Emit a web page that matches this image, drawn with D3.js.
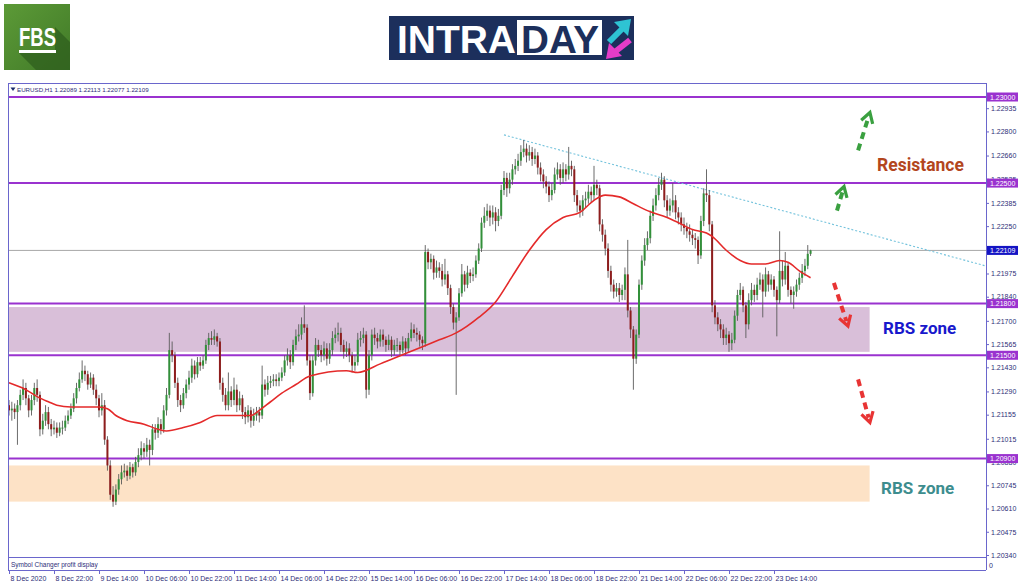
<!DOCTYPE html>
<html><head><meta charset="utf-8">
<script src="https://cdn.jsdelivr.net/npm/d3@7"></script>
<style>body{margin:0;background:#fff}svg{display:block}</style>
</head><body>
<svg id="c" width="1024" height="587"></svg>
<script>
// ---------- DATA (EURUSD H1) ----------
const opens=[
1.2121,1.2118,1.2119,1.2117,1.2121,1.2127,1.2131,1.2125,1.2118,1.2124,
1.2131,1.2127,1.2107,1.2112,1.2117,1.2110,1.2107,1.2108,1.2105,1.2108,
1.2108,1.2112,1.2115,1.2119,1.2125,1.2131,1.2136,1.2141,1.2139,1.2133,
1.2137,1.2130,1.2125,1.2118,1.2121,1.2101,1.2086,1.2069,1.2065,1.2072,
1.2078,1.2082,1.2083,1.2080,1.2085,1.2082,1.2088,1.2092,1.2096,1.2094,
1.2098,1.2095,1.2107,1.2105,1.2110,1.2107,1.2118,1.2127,1.2153,1.2150,
1.2134,1.2124,1.2121,1.2128,1.2133,1.2137,1.2144,1.2139,1.2146,1.2144,
1.2147,1.2156,1.2160,1.2159,1.2161,1.2158,1.2134,1.2127,1.2121,1.2129,
1.2124,1.2130,1.2121,1.2125,1.2117,1.2114,1.2118,1.2112,1.2115,1.2117,
1.2115,1.2133,1.2130,1.2134,1.2135,1.2136,1.2135,1.2137,1.2140,1.2147,
1.2150,1.2146,1.2156,1.2161,1.2162,1.2168,1.2166,1.2147,1.2128,1.2147,
1.2156,1.2153,1.2150,1.2154,1.2148,1.2153,1.2160,1.2162,1.2163,1.2156,
1.2152,1.2154,1.2150,1.2144,1.2146,1.2159,1.2160,1.2162,1.2130,1.2150,
1.2162,1.2160,1.2158,1.2162,1.2159,1.2156,1.2159,1.2153,1.2156,1.2156,
1.2153,1.2158,1.2154,1.2160,1.2165,1.2163,1.2162,1.2159,1.2157,1.2210,
1.2204,1.2206,1.2198,1.2201,1.2199,1.2194,1.2197,1.2189,1.2178,1.2169,
1.2172,1.2186,1.2197,1.2191,1.2198,1.2196,1.2197,1.2205,1.2212,1.2227,
1.2231,1.2234,1.2230,1.2233,1.2228,1.2231,1.2246,1.2253,1.2247,1.2252,
1.2258,1.2260,1.2263,1.2268,1.2270,1.2266,1.2268,1.2264,1.2266,1.2259,
1.2255,1.2251,1.2248,1.2243,1.2246,1.2255,1.2258,1.2253,1.2258,1.2255,
1.2260,1.2258,1.2243,1.2237,1.2234,1.2240,1.2241,1.2245,1.2243,1.2249,
1.2247,1.2226,1.2220,1.2212,1.2199,1.2191,1.2187,1.2189,1.2185,1.2188,
1.2197,1.2176,1.2165,1.2148,1.2162,1.2191,1.2205,1.2214,1.2218,1.2231,
1.2237,1.2243,1.2249,1.2252,1.2240,1.2234,1.2237,1.2240,1.2233,1.2230,
1.2226,1.2224,1.2222,1.2220,1.2218,1.2217,1.2208,1.2228,1.2244,1.2243,
1.2226,1.2179,1.2172,1.2168,1.2165,1.2160,1.2162,1.2157,1.2159,1.2173,
1.2185,1.2188,1.2179,1.2168,1.2182,1.2188,1.2185,1.2191,1.2194,1.2187,
1.2197,1.2191,1.2194,1.2188,1.2182,1.2199,1.2194,1.2202,1.2188,1.2185,
1.2187,1.2191,1.2195,1.2199,1.2202,1.22089];
const highs=[
1.2124,1.2123,1.2122,1.2124,1.2130,1.2136,1.2134,1.2127,1.2127,1.2134,
1.2136,1.2129,1.2116,1.2121,1.2120,1.2113,1.2112,1.2111,1.2111,1.2112,
1.2115,1.2118,1.2122,1.2128,1.2134,1.2140,1.2147,1.2144,1.2141,1.2140,
1.2139,1.2133,1.2127,1.2128,1.2124,1.2103,1.2089,1.2074,1.2075,1.2081,
1.2086,1.2087,1.2086,1.2088,1.2087,1.2091,1.2096,1.2100,1.2099,1.2102,
1.2101,1.2110,1.2110,1.2114,1.2113,1.2121,1.2131,1.2163,1.2158,1.2152,
1.2137,1.2127,1.2131,1.2136,1.2141,1.2148,1.2147,1.2149,1.2149,1.2150,
1.2159,1.2163,1.2164,1.2165,1.2163,1.2160,1.2137,1.2131,1.2140,1.2132,
1.2137,1.2133,1.2129,1.2127,1.2120,1.2121,1.2120,1.2119,1.2120,1.2120,
1.2144,1.2136,1.2138,1.2138,1.2139,1.2139,1.2140,1.2143,1.2150,1.2154,
1.2153,1.2159,1.2165,1.2168,1.2172,1.2179,1.2168,1.2150,1.2150,1.2160,
1.2159,1.2156,1.2158,1.2157,1.2157,1.2164,1.2166,1.2169,1.2166,1.2159,
1.2158,1.2157,1.2152,1.2150,1.2163,1.2164,1.2166,1.2164,1.2153,1.2165,
1.2166,1.2163,1.2165,1.2165,1.2161,1.2162,1.2161,1.2159,1.2160,1.2158,
1.2161,1.2160,1.2163,1.2169,1.2168,1.2166,1.2164,1.2161,1.2214,1.2212,
1.2209,1.2208,1.2205,1.2204,1.2203,1.2206,1.2199,1.2191,1.2180,1.2175,
1.2189,1.2203,1.2199,1.2202,1.2200,1.2201,1.2208,1.2215,1.2230,1.2236,
1.2238,1.2237,1.2237,1.2236,1.2235,1.2249,1.2257,1.2256,1.2256,1.2261,
1.2264,1.2267,1.2272,1.2275,1.2273,1.2272,1.2271,1.2270,1.2268,1.2262,
1.2258,1.2254,1.2251,1.2250,1.2259,1.2262,1.2261,1.2262,1.2261,1.2271,
1.2263,1.2260,1.2246,1.2240,1.2243,1.2245,1.2249,1.2248,1.2260,1.2252,
1.2249,1.2229,1.2223,1.2215,1.2202,1.2194,1.2192,1.2192,1.2191,1.2201,
1.2217,1.2178,1.2167,1.2165,1.2194,1.2208,1.2218,1.2222,1.2234,1.2241,
1.2247,1.2253,1.2256,1.2254,1.2243,1.2241,1.2250,1.2243,1.2236,1.2233,
1.2230,1.2227,1.2226,1.2223,1.2221,1.2219,1.2231,1.2247,1.2258,1.2246,
1.2228,1.2182,1.2175,1.2171,1.2168,1.2166,1.2164,1.2163,1.2176,1.2188,
1.2192,1.2190,1.2181,1.2186,1.2192,1.2191,1.2195,1.2198,1.2197,1.2201,
1.2199,1.2197,1.2196,1.2190,1.2222,1.2205,1.2210,1.2204,1.2190,1.2190,
1.2194,1.2198,1.2203,1.2206,1.2214,1.22113];
const lows=[
1.2115,1.2112,1.2113,1.2098,1.2118,1.2124,1.2121,1.2114,1.2115,1.2121,
1.2123,1.2103,1.2104,1.2109,1.2107,1.2103,1.2104,1.2102,1.2103,1.2104,
1.2106,1.2110,1.2113,1.2117,1.2122,1.2129,1.2134,1.2135,1.2130,1.2131,
1.2127,1.2121,1.2114,1.2115,1.2098,1.2083,1.2066,1.2062,1.2063,1.2069,
1.2075,1.2079,1.2077,1.2078,1.2079,1.2080,1.2085,1.2089,1.2090,1.2091,
1.2086,1.2092,1.2101,1.2102,1.2104,1.2105,1.2115,1.2125,1.2146,1.2131,
1.2120,1.2117,1.2119,1.2125,1.2130,1.2134,1.2136,1.2137,1.2141,1.2142,
1.2145,1.2153,1.2156,1.2156,1.2155,1.2130,1.2123,1.2118,1.2118,1.2120,
1.2121,1.2117,1.2118,1.2113,1.2110,1.2111,1.2108,1.2109,1.2112,1.2111,
1.2113,1.2126,1.2127,1.2131,1.2132,1.2132,1.2132,1.2135,1.2138,1.2144,
1.2142,1.2144,1.2153,1.2158,1.2159,1.2163,1.2144,1.2124,1.2126,1.2144,
1.2149,1.2146,1.2147,1.2144,1.2145,1.2150,1.2157,1.2158,1.2152,1.2148,
1.2149,1.2146,1.2140,1.2141,1.2144,1.2155,1.2157,1.2125,1.2127,1.2147,
1.2156,1.2154,1.2155,1.2155,1.2152,1.2153,1.2149,1.2150,1.2152,1.2150,
1.2151,1.2150,1.2152,1.2158,1.2160,1.2158,1.2155,1.2153,1.2155,1.2200,
1.2200,1.2194,1.2195,1.2195,1.2190,1.2191,1.2185,1.2174,1.2165,1.2127,
1.2170,1.2184,1.2187,1.2189,1.2192,1.2193,1.2195,1.2203,1.2210,1.2224,
1.2228,1.2225,1.2226,1.2222,1.2225,1.2229,1.2243,1.2242,1.2244,1.2249,
1.2255,1.2257,1.2260,1.2265,1.2262,1.2263,1.2260,1.2261,1.2255,1.2251,
1.2247,1.2244,1.2239,1.2240,1.2244,1.2252,1.2249,1.2250,1.2251,1.2252,
1.2254,1.2239,1.2233,1.2230,1.2231,1.2236,1.2238,1.2239,1.2240,1.2243,
1.2222,1.2216,1.2208,1.2195,1.2187,1.2183,1.2184,1.2181,1.2182,1.2182,
1.2172,1.2160,1.2130,1.2145,1.2160,1.2188,1.2202,1.2211,1.2215,1.2228,
1.2234,1.2240,1.2246,1.2236,1.2230,1.2231,1.2233,1.2229,1.2226,1.2222,
1.2220,1.2218,1.2216,1.2214,1.2212,1.2203,1.2206,1.2225,1.2239,1.2222,
1.2175,1.2168,1.2164,1.2160,1.2156,1.2156,1.2152,1.2153,1.2157,1.2170,
1.2182,1.2175,1.2160,1.2165,1.2179,1.2181,1.2182,1.2188,1.2172,1.2184,
1.2187,1.2188,1.2184,1.2161,1.2180,1.2190,1.2191,1.2184,1.2180,1.2177,
1.2184,1.2188,1.2192,1.2196,1.2200,1.22077];
const closes=[
1.2118,1.2119,1.2117,1.2121,1.2127,1.2131,1.2125,1.2118,1.2124,1.2131,
1.2127,1.2107,1.2112,1.2117,1.2110,1.2107,1.2108,1.2105,1.2108,1.2108,
1.2112,1.2115,1.2119,1.2125,1.2131,1.2136,1.2141,1.2139,1.2133,1.2137,
1.2130,1.2125,1.2118,1.2121,1.2101,1.2086,1.2069,1.2065,1.2072,1.2078,
1.2082,1.2083,1.2080,1.2085,1.2082,1.2088,1.2092,1.2096,1.2094,1.2098,
1.2095,1.2107,1.2105,1.2110,1.2107,1.2118,1.2127,1.2153,1.2150,1.2134,
1.2124,1.2121,1.2128,1.2133,1.2137,1.2144,1.2139,1.2146,1.2144,1.2147,
1.2156,1.2160,1.2159,1.2161,1.2158,1.2134,1.2127,1.2121,1.2129,1.2124,
1.2130,1.2121,1.2125,1.2117,1.2114,1.2118,1.2112,1.2115,1.2117,1.2115,
1.2133,1.2130,1.2134,1.2135,1.2136,1.2135,1.2137,1.2140,1.2147,1.2150,
1.2146,1.2156,1.2161,1.2162,1.2168,1.2166,1.2147,1.2128,1.2147,1.2156,
1.2153,1.2150,1.2154,1.2148,1.2153,1.2160,1.2162,1.2163,1.2156,1.2152,
1.2154,1.2150,1.2144,1.2146,1.2159,1.2160,1.2162,1.2130,1.2150,1.2162,
1.2160,1.2158,1.2162,1.2159,1.2156,1.2159,1.2153,1.2156,1.2156,1.2153,
1.2158,1.2154,1.2160,1.2165,1.2163,1.2162,1.2159,1.2157,1.2210,1.2204,
1.2206,1.2198,1.2201,1.2199,1.2194,1.2197,1.2189,1.2178,1.2169,1.2172,
1.2186,1.2197,1.2191,1.2198,1.2196,1.2197,1.2205,1.2212,1.2227,1.2231,
1.2234,1.2230,1.2233,1.2228,1.2231,1.2246,1.2253,1.2247,1.2252,1.2258,
1.2260,1.2263,1.2268,1.2270,1.2266,1.2268,1.2264,1.2266,1.2259,1.2255,
1.2251,1.2248,1.2243,1.2246,1.2255,1.2258,1.2253,1.2258,1.2255,1.2260,
1.2258,1.2243,1.2237,1.2234,1.2240,1.2241,1.2245,1.2243,1.2249,1.2247,
1.2226,1.2220,1.2212,1.2199,1.2191,1.2187,1.2189,1.2185,1.2188,1.2197,
1.2176,1.2165,1.2148,1.2162,1.2191,1.2205,1.2214,1.2218,1.2231,1.2237,
1.2243,1.2249,1.2252,1.2240,1.2234,1.2237,1.2240,1.2233,1.2230,1.2226,
1.2224,1.2222,1.2220,1.2218,1.2217,1.2208,1.2228,1.2244,1.2243,1.2226,
1.2179,1.2172,1.2168,1.2165,1.2160,1.2162,1.2157,1.2159,1.2173,1.2185,
1.2188,1.2179,1.2168,1.2182,1.2188,1.2185,1.2191,1.2194,1.2187,1.2197,
1.2191,1.2194,1.2188,1.2182,1.2199,1.2194,1.2202,1.2188,1.2185,1.2187,
1.2191,1.2195,1.2199,1.2202,1.22089,1.22109];

// moving average (red line), read at selected bars
const maIndex=[0,6,10,14,17,22,27,32,35,38,42,48,53,56,62,68,74,78,82,86,89,93,97,102,107,120,124,132,141,147,153,159,167,173,179,185,191,197,203,208,212,217,222,227,234,238,243,248,250,255,260,264,269,274,277,281,285];
const maValues=[1.2134,1.2130,1.2126,1.2123,1.2121,1.2120,1.2120,1.2120,1.2119,1.2115,1.2112,1.2110,1.2107,1.2106,1.2108,1.2111,1.2115,1.2115,1.2115,1.2115,1.2118,1.2123,1.2128,1.2133,1.2138,1.2141,1.2140,1.2145,1.2151,1.2155,1.2159,1.2163,1.2172,1.2181,1.2196,1.2211,1.2223,1.2230,1.2233,1.2240,1.2243,1.2242,1.2238,1.2234,1.2230,1.2227,1.2223,1.2221,1.2219,1.2211,1.2205,1.2203,1.2203,1.2205,1.2204,1.2199,1.2195];

const levels=[1.23000,1.22500,1.21800,1.21500,1.20900];
const lastPrice=1.22109;
const priceTicks=[1.22935,1.22800,1.22660,1.22525,1.22385,1.22250,1.21975,1.21840,1.21700,1.21565,1.21430,1.21290,1.21155,1.21015,1.20880,1.20745,1.20610,1.20475,1.20340];
const timeTicks=[0,16,32,48,64,80,96,112,128,144,160,176,192,208,224,240,256,272];
const timeLabels=["8 Dec 2020","8 Dec 22:00","9 Dec 14:00","10 Dec 06:00","10 Dec 22:00","11 Dec 14:00","14 Dec 06:00","14 Dec 22:00","15 Dec 14:00","16 Dec 06:00","16 Dec 22:00","17 Dec 14:00","18 Dec 06:00","18 Dec 22:00","21 Dec 14:00","22 Dec 06:00","22 Dec 22:00","23 Dec 14:00"];

// zones (price bands) and their right end (bar)
const zoneTop=[1.2178,1.2086];
const zoneBottom=[1.2152,1.2065];
const zoneEndBar=306;
// trend line points [bar, price]
const trendBars=[176,347];
const trendPrices=[1.2278,1.2202];
// arrows [bar0, price0, bar1, price1]
const upArrows=[[301.9,1.2269,306.1,1.2291],[294.4,1.2234,296.9,1.2248]];
const downArrows=[[293.3,1.2192,298.3,1.2167],[301.9,1.2136,306.1,1.2111]];
const header="EURUSD,H1  1.22089 1.22113 1.22077 1.22109";

// ---------- DRAW ----------
const svg=d3.select('#c');
const L=8,R=986,T=83,B=557,SB=570;
const x=d3.scaleLinear().domain([0,272]).range([9,774]);
const y=d3.scaleLinear().domain([1.2034,1.2300]).range([555,97]);
const FRAME='#6a66cc', TXT='#2e2e78';
const N=closes.length;

svg.append('rect').attr('width',1024).attr('height',587).attr('fill','#fff');

// ---- Logos ----
const defs=svg.append('defs');
const gr=defs.append('linearGradient').attr('id','fbsg').attr('x1','0').attr('y1','0').attr('x2','1').attr('y2','1');
gr.append('stop').attr('offset','0').attr('stop-color','#5c9a37');
gr.append('stop').attr('offset','1').attr('stop-color','#417a28');
svg.append('rect').attr('x',4).attr('y',4).attr('width',66).attr('height',66).attr('fill','url(#fbsg)');
svg.append('polygon').attr('points','55,27 70,42 70,70 36,70 19,53 55,53').attr('fill','#2f5f1d').attr('opacity',0.75);
svg.append('text').attr('x',19).attr('y',46).attr('font-family','Liberation Sans, Arial, sans-serif').attr('font-weight','bold')
  .attr('font-size',26).attr('fill','#fff').attr('textLength',37).attr('lengthAdjust','spacingAndGlyphs').text('FBS');
svg.append('rect').attr('x',19).attr('y',50).attr('width',37).attr('height',3).attr('fill','#fff');

svg.append('rect').attr('x',389).attr('y',16).attr('width',245).attr('height',44).attr('fill','#1c2f5c');
svg.append('text').attr('x',397).attr('y',53).attr('font-family','Liberation Sans, Arial, sans-serif').attr('font-weight','bold')
  .attr('font-size',39).attr('fill','#fff').attr('textLength',119).attr('lengthAdjust','spacingAndGlyphs').text('INTRA');
svg.append('rect').attr('x',517).attr('y',20).attr('width',85).attr('height',35).attr('fill','#fff');
svg.append('text').attr('x',521).attr('y',53).attr('font-family','Liberation Sans, Arial, sans-serif').attr('font-weight','bold')
  .attr('font-size',39).attr('fill','#1c2f5c').attr('textLength',78).attr('lengthAdjust','spacingAndGlyphs').text('DAY');
svg.append('line').attr('x1',609).attr('y1',42).attr('x2',622).attr('y2',29).attr('stroke','#2ec3d3').attr('stroke-width',6);
svg.append('polygon').attr('points','631,19 614,22 628,36').attr('fill','#2ec3d3');
svg.append('line').attr('x1',630).attr('y1',40).attr('x2',616).attr('y2',51).attr('stroke','#e53cc8').attr('stroke-width',6);
svg.append('polygon').attr('points','606,59 609,43 622,56').attr('fill','#e53cc8');

// ---- zones ----
const plot=svg.append('g');
plot.selectAll('rect.zone').data(d3.range(zoneTop.length)).join('rect')
  .attr('x',L).attr('width',x(zoneEndBar)-L)
  .attr('y',i=>y(zoneTop[i])).attr('height',i=>y(zoneBottom[i])-y(zoneTop[i]))
  .attr('fill',(d,i)=>i===0?'#d9bfd9':'#fde2c6');

// current price line
plot.append('line').attr('x1',L).attr('x2',R).attr('y1',y(lastPrice)).attr('y2',y(lastPrice)).attr('stroke','#a8a8a8').attr('stroke-width',1);

// level lines
plot.selectAll('line.lvl').data(levels).join('line')
  .attr('x1',L).attr('x2',R).attr('y1',d=>y(d)).attr('y2',d=>y(d))
  .attr('stroke','#9a32cf').attr('stroke-width',2);

// trend line
plot.append('line').attr('x1',x(trendBars[0])).attr('y1',y(trendPrices[0])).attr('x2',x(trendBars[1])).attr('y2',y(trendPrices[1]))
  .attr('stroke','#72c2dc').attr('stroke-width',1.1).attr('stroke-dasharray','2,2');

// candles
const idx=d3.range(N);
plot.selectAll('line.wick').data(idx).join('line')
  .attr('x1',i=>x(i)).attr('x2',i=>x(i))
  .attr('y1',i=>y(Math.max(highs[i],opens[i],closes[i])))
  .attr('y2',i=>y(Math.min(lows[i],opens[i],closes[i])))
  .attr('stroke','#5a5a5a').attr('stroke-width',0.9);
plot.selectAll('rect.body').data(idx).join('rect')
  .attr('x',i=>x(i)-1).attr('width',2)
  .attr('y',i=>y(Math.max(opens[i],closes[i])))
  .attr('height',i=>Math.max(1,Math.abs(y(opens[i])-y(closes[i]))))
  .attr('fill',i=>closes[i]>=opens[i]?'#32903a':'#8e1d1d');

// moving average
const ma=d3.line().x(i=>x(maIndex[i])).y(i=>y(maValues[i])).curve(d3.curveMonotoneX);
plot.append('path').attr('d',ma(d3.range(maIndex.length))).attr('fill','none').attr('stroke','#e42a2a').attr('stroke-width',1.6);

// dashed arrows
function arrow(a,color){
  const x0=x(a[0]),y0=y(a[1]),x1=x(a[2]),y1=y(a[3]);
  const dx=x1-x0,dy=y1-y0,len=Math.hypot(dx,dy),ux=dx/len,uy=dy/len;
  plot.append('line').attr('x1',x0).attr('y1',y0).attr('x2',x1-ux*5).attr('y2',y1-uy*5)
    .attr('stroke',color).attr('stroke-width',4).attr('stroke-dasharray','7,5');
  const hx=x1,hy=y1,bl=10,w=6;
  const px=-uy,py=ux;
  const bx=hx-ux*bl,by=hy-uy*bl;
  plot.append('polyline').attr('points',`${bx+px*w},${by+py*w} ${hx},${hy} ${bx-px*w},${by-py*w}`)
    .attr('fill','none').attr('stroke',color).attr('stroke-width',3.2).attr('stroke-linejoin','miter');
}
upArrows.forEach(a=>arrow(a,'#3aa040'));
downArrows.forEach(a=>arrow(a,'#e83434'));

// annotations text
const ann=svg.append('g').attr('font-family','Roboto, sans-serif').attr('font-weight',700);
ann.append('text').attr('x',877).attr('y',171).attr('font-size',17.5).attr('fill','#b3461d').text('Resistance');
ann.append('text').attr('x',883).attr('y',334).attr('font-size',17).attr('fill','#1818cc').text('RBS zone');
ann.append('text').attr('x',881).attr('y',494).attr('font-size',17).attr('fill','#3d8d8e').text('RBS zone');

// ---- frame ----
const fr=svg.append('g').attr('stroke',FRAME).attr('stroke-width',1).attr('shape-rendering','crispEdges');
fr.append('line').attr('x1',L).attr('x2',R).attr('y1',T).attr('y2',T);
fr.append('line').attr('x1',L).attr('x2',R).attr('y1',B).attr('y2',B);
fr.append('line').attr('x1',L).attr('x2',R).attr('y1',SB).attr('y2',SB);
fr.append('line').attr('x1',L).attr('x2',L).attr('y1',T).attr('y2',SB);
fr.append('line').attr('x1',R).attr('x2',R).attr('y1',T).attr('y2',SB);

// header
svg.append('path').attr('d','M10.5,87.5 L15.5,87.5 L13,91 Z').attr('fill','#1c2c6c');
svg.append('text').attr('x',17).attr('y',91.5).attr('font-family','Liberation Sans, Arial, sans-serif').attr('font-size',6.2).attr('fill',TXT).text(header);
svg.append('text').attr('x',11).attr('y',567).attr('font-family','Liberation Sans, Arial, sans-serif').attr('font-size',6.5).attr('fill',TXT).text('Symbol Changer profit display');
svg.append('text').attr('x',989).attr('y',568).attr('font-family','Liberation Sans, Arial, sans-serif').attr('font-size',7).attr('fill',TXT).text('0');

// right axis
const yAxis=d3.axisRight(y).tickValues(priceTicks).tickFormat(d3.format('.5f')).tickSize(3).tickPadding(2);
const ya=svg.append('g').attr('transform',`translate(${R},0)`).call(yAxis);
ya.select('.domain').remove();
ya.selectAll('line').attr('stroke',FRAME);
ya.selectAll('text').attr('font-family','Liberation Sans, Arial, sans-serif').attr('font-size',7).attr('fill',TXT);

// level price boxes (drawn over the tick labels they cover, as in the terminal)
const boxes=svg.append('g').attr('font-family','Liberation Sans, Arial, sans-serif').attr('font-size',7);
levels.concat([lastPrice]).forEach((v,i)=>{
  const col=i<levels.length?'#9a32cf':'#1414c4';
  boxes.append('rect').attr('x',R+1).attr('y',y(v)-4.5).attr('width',31).attr('height',9).attr('fill',col);
  boxes.append('text').attr('x',R+4).attr('y',y(v)+2.5).attr('fill','#fff').text(d3.format('.5f')(v));
});

// bottom axis
const xAxis=d3.axisBottom(x).tickValues(timeTicks).tickFormat((d,i)=>timeLabels[i]).tickSize(4).tickPadding(2);
const xa=svg.append('g').attr('transform',`translate(0,${SB})`).call(xAxis);
xa.select('.domain').remove();
xa.selectAll('line').attr('stroke',FRAME);
xa.selectAll('text').attr('text-anchor','start').attr('dx',1).attr('font-family','Liberation Sans, Arial, sans-serif').attr('font-size',7).attr('fill',TXT);
</script>
</body></html>
